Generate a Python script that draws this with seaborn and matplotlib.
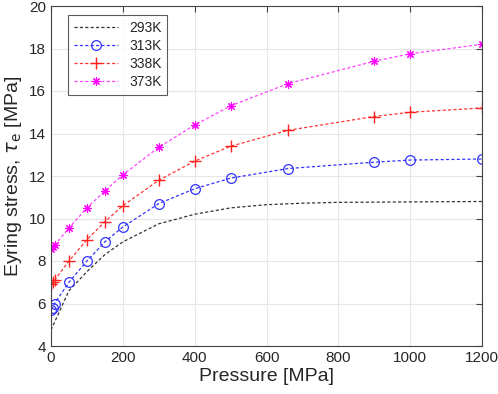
import numpy as np
import pandas as pd
import matplotlib
matplotlib.use("Agg")
import matplotlib.pyplot as plt
import seaborn as sns

# data
p_293 = [0, 50, 100, 150, 200, 300, 400, 500, 600, 700, 800, 1000, 1200]
t_293 = [4.75, 6.6, 7.5, 8.3, 8.9, 9.75, 10.2, 10.5, 10.65, 10.72, 10.76, 10.78, 10.8]

p_pts = [0, 5, 10, 50, 100, 150, 200, 300, 400, 500, 660, 900, 1000, 1200]
t_313 = [5.7, 5.8, 6.0, 7.0, 8.0, 8.9, 9.6, 10.7, 11.4, 11.9, 12.35, 12.65, 12.75, 12.8]
t_338 = [6.9, 7.0, 7.1, 8.0, 9.0, 9.85, 10.6, 11.8, 12.7, 13.4, 14.15, 14.8, 15.0, 15.2]
t_373 = [8.55, 8.65, 8.75, 9.55, 10.5, 11.3, 12.05, 13.35, 14.4, 15.3, 16.35, 17.4, 17.75, 18.2]

sns.set_style("white")
plt.rcParams['font.family'] = ['Liberation Sans', 'DejaVu Sans']

fig = plt.figure(figsize=(4.98, 3.94), dpi=100)
ax = fig.add_axes([51/498, 48/394, 431/498, 340/394])

ls = (0, (2.5, 1.8))
sns.lineplot(x=p_293, y=t_293, ax=ax, color='#333333', linestyle=ls, linewidth=0.9, label='293K')
sns.lineplot(x=p_pts, y=t_313, ax=ax, color='#3333ff', linestyle=ls, linewidth=0.9, marker='o',
             markersize=7, markerfacecolor='none', markeredgecolor='#3333ff', markeredgewidth=0.9, label='313K')
sns.lineplot(x=p_pts, y=t_338, ax=ax, color='#ff3333', linestyle=ls, linewidth=0.9, marker='+',
             markersize=8, markeredgewidth=1.0, markeredgecolor='#ff2020', label='338K')
sns.lineplot(x=p_pts, y=t_373, ax=ax, color='#ff44ff', linestyle=ls, linewidth=0.9, marker=(8, 2, 0),
             markersize=6, markeredgewidth=0.8, markeredgecolor='#ff00ff', label='373K')

ax.set_xlim(0, 1200)
ax.set_ylim(4, 20)
ax.set_xticks(np.arange(0, 1201, 200))
ax.set_yticks(np.arange(4, 21, 2))
ax.grid(True, color='#e6e6e6', linewidth=0.8)
ax.tick_params(direction='in', top=True, right=True, labelsize=11, length=4, color='#444444')
for s in ax.spines.values():
    s.set_color('#444444')
    s.set_linewidth(0.8)
ax.set_xlabel('Pressure [MPa]', fontsize=14, labelpad=2)
ax.set_ylabel(r'Eyring stress, $\tau_{\mathrm{e}}$ [MPa]', fontsize=14)

leg = ax.legend(loc='upper left', bbox_to_anchor=(0.04, 0.973), borderaxespad=0, fontsize=10,
                frameon=True, fancybox=False, edgecolor='#333333', handlelength=3.2,
                borderpad=0.4, labelspacing=0.3)
leg.get_frame().set_linewidth(0.8)

fig.savefig('out.png', dpi=100)
